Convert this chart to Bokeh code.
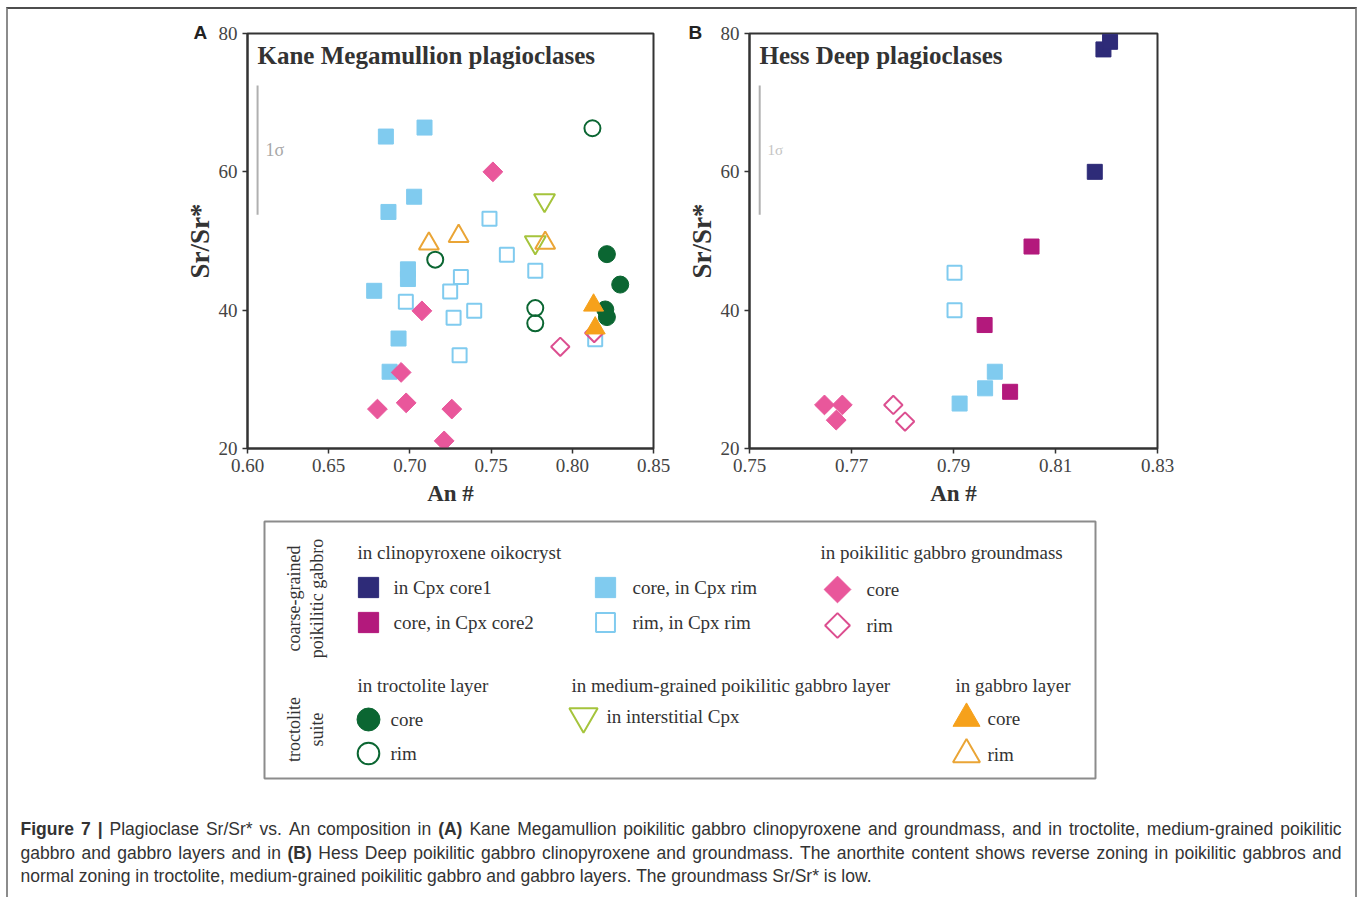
import numpy as np
from bokeh.plotting import figure
from bokeh.models import Range1d, FixedTicker, Label, Title, NumeralTickFormatter
from bokeh.layouts import row, column
from bokeh.embed import file_html
from bokeh.resources import INLINE
from bokeh.core.properties import value

# ---------------------------------------------------------------- data
Y_TICKS = [20, 40, 60, 80]
A_X_TICKS = [0.60, 0.65, 0.70, 0.75, 0.80, 0.85]
B_X_TICKS = [0.75, 0.77, 0.79, 0.81, 0.83]
SIGMA_SR = [53.8, 72.5]          # length of the 1-sigma bar (Sr/Sr*)

# Panel A - Kane Megamullion
A_cpx_rim_core_an = [0.6852, 0.7090, 0.7026, 0.6868, 0.6988, 0.6988, 0.6780, 0.6930, 0.6875]
A_cpx_rim_core_sr = [65.1, 66.4, 56.4, 54.2, 45.9, 44.5, 42.8, 35.9, 31.1]
A_cpx_rim_rim_an = [0.7490, 0.7597, 0.7314, 0.7772, 0.7248, 0.6975, 0.7396, 0.7269, 0.7306, 0.8141]
A_cpx_rim_rim_sr = [53.2, 48.0, 44.8, 45.7, 42.7, 41.2, 39.9, 38.9, 33.5, 35.8]
A_gm_core_an = [0.7511, 0.7074, 0.6946, 0.6800, 0.6977, 0.7258, 0.7211]
A_gm_core_sr = [60.0, 39.9, 31.0, 25.7, 26.6, 25.7, 21.1]
A_gm_rim_an = [0.7926, 0.8135]
A_gm_rim_sr = [34.7, 36.7]
A_troc_core_an = [0.8213, 0.8295, 0.8203, 0.8213]
A_troc_core_sr = [48.1, 43.7, 40.1, 39.0]
A_troc_rim_an = [0.8124, 0.7156, 0.7772, 0.7772]
A_troc_rim_sr = [66.3, 47.3, 40.3, 38.1]
A_interstitial_an = [0.7829, 0.7772]
A_interstitial_sr = [55.9, 49.8]
A_gab_core_an = [0.8131, 0.8141]
A_gab_core_sr = [40.7, 37.4]
A_gab_rim_an = [0.7117, 0.7300, 0.7833]
A_gab_rim_sr = [49.6, 50.7, 49.7]

# Panel B - Hess Deep
B_core1_an = [0.8194, 0.8207, 0.8177]
B_core1_sr = [77.7, 78.8, 60.0]
B_core2_an = [0.8053, 0.7961, 0.8011]
B_core2_sr = [49.2, 37.85, 28.2]
B_cpx_rim_core_an = [0.7981, 0.7962, 0.7912]
B_cpx_rim_core_sr = [31.1, 28.7, 26.5]
B_cpx_rim_rim_an = [0.7902, 0.7902]
B_cpx_rim_rim_sr = [45.4, 40.0]
B_gm_core_an = [0.7647, 0.7682, 0.7670]
B_gm_core_sr = [26.3, 26.3, 24.1]
B_gm_rim_an = [0.7782, 0.7805]
B_gm_rim_sr = [26.3, 23.9]

LEGEND_HEADERS = ["in clinopyroxene oikocryst", "in poikilitic gabbro groundmass",
                  "in troctolite layer", "in medium-grained poikilitic gabbro layer",
                  "in gabbro layer"]
LEGEND_KEYS = ["core1", "core2", "cpx_rim_core", "cpx_rim_rim", "gm_core", "gm_rim",
               "troc_core", "troc_rim", "interstitial", "gab_core", "gab_rim"]
LEGEND_LABELS = ["in Cpx core1", "core, in Cpx core2", "core, in Cpx rim", "rim, in Cpx rim",
                 "core", "rim", "core", "rim", "in interstitial Cpx", "core", "rim"]
GROUP_LABELS = [["coarse-grained", "poikilitic gabbro"], ["troctolite", "suite"]]

CAPTION = [
    [("Figure 7 |", "bold"), ("Plagioclase Sr/Sr* vs. An composition in", "normal"), ("(A)", "bold"),
     ("Kane Megamullion poikilitic gabbro clinopyroxene and groundmass, and in troctolite, medium-grained poikilitic", "normal")],
    [("gabbro and gabbro layers and in", "normal"), ("(B)", "bold"),
     ("Hess Deep poikilitic gabbro clinopyroxene and groundmass. The anorthite content shows reverse zoning in poikilitic gabbros and", "normal")],
    [("normal zoning in troctolite, medium-grained poikilitic gabbro and gabbro layers. The groundmass Sr/Sr* is low.", "normal")],
]
CAPTION_JUSTIFIED = [True, True, False]

# ---------------------------------------------------------------- styles
SERIF = "Liberation Serif"
SANS = "Liberation Sans"
NAVY = "#2e2b78"
MAGENTA = "#b3197c"
LBLUE = "#80cbef"
PINK = "#e9579b"
PINK_RIM = "#dc4f90"
DGREEN = "#0b6632"
YGREEN = "#a5c43c"
ORANGE = "#f6a11b"
ORANGE_RIM = "#eaa536"
INK = "#333333"

STY = {
    "core1": dict(marker="square", size=15, fill_color=NAVY, line_color=NAVY, line_width=1, angle=0.0),
    "core2": dict(marker="square", size=15, fill_color=MAGENTA, line_color=MAGENTA, line_width=1, angle=0.0),
    "cpx_rim_core": dict(marker="square", size=15, fill_color=LBLUE, line_color=LBLUE, line_width=1, angle=0.0),
    "cpx_rim_rim": dict(marker="square", size=14, fill_color=None, line_color=LBLUE, line_width=2, angle=0.0),
    "gm_core": dict(marker="square", size=14, fill_color=PINK, line_color=PINK, line_width=1, angle=np.pi / 4),
    "gm_rim": dict(marker="square", size=13, fill_color=None, line_color=PINK_RIM, line_width=2, angle=np.pi / 4),
    "troc_core": dict(marker="circle", size=17, fill_color=DGREEN, line_color=DGREEN, line_width=1, angle=0.0),
    "troc_rim": dict(marker="circle", size=16, fill_color=None, line_color=DGREEN, line_width=2, angle=0.0),
    "interstitial": dict(marker="inverted_triangle", size=21, fill_color=None, line_color=YGREEN, line_width=2, angle=0.0),
    "gab_core": dict(marker="triangle", size=20, fill_color=ORANGE, line_color=ORANGE, line_width=1, angle=0.0),
    "gab_rim": dict(marker="triangle", size=20, fill_color=None, line_color=ORANGE_RIM, line_width=2, angle=0.0),
}

# Arial / Liberation Sans advance widths (per 1000 em) for caption justification
_REG = dict(zip("abcdefghijklmnopqrstuvwxyz",
                [556, 556, 500, 556, 556, 278, 556, 556, 222, 222, 500, 222, 833,
                 556, 556, 556, 556, 333, 500, 278, 556, 500, 722, 500, 500, 500]))
_REG.update({"A": 667, "B": 667, "D": 722, "F": 611, "H": 722, "K": 667, "M": 833,
             "P": 667, "S": 667, "T": 611, " ": 278, ".": 278, ",": 278, "-": 333,
             "/": 278, "*": 389, "(": 333, ")": 333, "|": 260, "7": 556})
_BOLD = dict(_REG)
_BOLD.update({"g": 611, "u": 611, "r": 389, "A": 722, "B": 722, "i": 278, "|": 280})


def text_width(s, bold, size):
    tbl = _BOLD if bold else _REG
    return sum(tbl.get(c, 556) for c in s) * size / 1000.0


# ---------------------------------------------------------------- layout (page px)
OX, OY = 8, 9            # content origin (after page frame)
SPLIT_X = 680            # boundary between the two panel figures
RIGHT_X = 1355
ROW_BOTTOM = 515
PAGE_H = 897
FRAME_TOP = 33
FRAME_H = 415


def panel(xr, xticks, frame_left, frame_w, fig_left, fig_right, title, letter,
          sigma_x, series, sig_font, sig_color):
    fig_w = fig_right - fig_left
    fig_h = ROW_BOTTOM - OY
    mbl = frame_left - fig_left
    mbt = FRAME_TOP - OY
    p = figure(width=fig_w, height=fig_h, frame_width=frame_w, frame_height=FRAME_H,
               x_range=Range1d(*xr), y_range=Range1d(20, 80),
               output_backend="svg", toolbar_location=None,
               min_border_left=mbl, min_border_right=fig_w - mbl - frame_w,
               min_border_top=mbt, min_border_bottom=fig_h - mbt - FRAME_H,
               background_fill_color="white", border_fill_color="white")
    p.xgrid.visible = False
    p.ygrid.visible = False
    p.outline_line_color = INK
    p.outline_line_width = 2
    p.xaxis.ticker = FixedTicker(ticks=xticks)
    p.yaxis.ticker = FixedTicker(ticks=Y_TICKS)
    p.xaxis.formatter = NumeralTickFormatter(format="0.00")
    for ax in (p.xaxis[0], p.yaxis[0]):
        ax.axis_line_color = INK
        ax.axis_line_width = 2
        ax.major_tick_line_color = INK
        ax.major_tick_line_width = 1.5
        ax.major_tick_out = 5
        ax.major_tick_in = 0
        ax.minor_tick_out = 0
        ax.minor_tick_in = 0
        ax.major_label_text_font = SERIF
        ax.major_label_text_font_size = "19px"
        ax.major_label_text_color = "#444444"
        ax.major_label_standoff = 5
    p.xaxis.axis_label = "An #"
    p.xaxis.axis_label_text_font = SERIF
    p.xaxis.axis_label_text_font_size = "23px"
    p.xaxis.axis_label_text_font_style = "bold"
    p.xaxis.axis_label_text_color = INK
    p.xaxis.axis_label_standoff = 6
    p.add_layout(Title(text="Sr/Sr*", align="center", offset=25, text_font=SERIF,
                       text_font_size="27px", text_font_style="bold",
                       text_color=INK, standoff=2), "left")
    # panel letter (above the frame, pushed down beside the "80" tick)
    p.add_layout(Title(text=letter[0], align="left", offset=letter[1] - frame_left,
                       vertical_align="bottom", standoff=-19, text_font=SANS,
                       text_font_size="19px", text_font_style="bold",
                       text_color="#222222"), "above")

    # 1-sigma bar
    p.segment(x0=[sigma_x], y0=[SIGMA_SR[0]], x1=[sigma_x], y1=[SIGMA_SR[1]],
              line_color="#b0b0b0", line_width=2)
    p.add_layout(Label(x=18, y=FRAME_H - 116, x_units="screen", y_units="screen",
                       text="1σ", text_font=SERIF, text_font_size=sig_font,
                       text_color=sig_color, text_baseline="middle"))
    # title inside the frame
    p.add_layout(Label(x=10, y=FRAME_H - 22, x_units="screen", y_units="screen",
                       text=title, text_font=SERIF, text_font_size="25px",
                       text_font_style="bold", text_color=INK, text_baseline="middle"))

    for key, xs, ys in series:
        s = STY[key]
        p.scatter(x=xs, y=ys, marker=s["marker"], size=s["size"], angle=s["angle"],
                  fill_color=s["fill_color"], line_color=s["line_color"],
                  line_width=s["line_width"])
    return p


pA = panel((0.60, 0.85), A_X_TICKS, 247, 406, OX, SPLIT_X,
           "Kane Megamullion plagioclases", ("A", 193), 0.6062,
           [("cpx_rim_rim", A_cpx_rim_rim_an, A_cpx_rim_rim_sr),
            ("cpx_rim_core", A_cpx_rim_core_an, A_cpx_rim_core_sr),
            ("gm_core", A_gm_core_an, A_gm_core_sr),
            ("gm_rim", A_gm_rim_an, A_gm_rim_sr),
            ("troc_rim", A_troc_rim_an, A_troc_rim_sr),
            ("troc_core", A_troc_core_an, A_troc_core_sr),
            ("interstitial", A_interstitial_an, A_interstitial_sr),
            ("gab_rim", A_gab_rim_an, A_gab_rim_sr),
            ("gab_core", A_gab_core_an, A_gab_core_sr)],
           "18px", "#a8a8a8")

pB = panel((0.75, 0.83), B_X_TICKS, 749, 408, SPLIT_X, RIGHT_X,
           "Hess Deep plagioclases", ("B", 688), 0.752,
           [("cpx_rim_rim", B_cpx_rim_rim_an, B_cpx_rim_rim_sr),
            ("cpx_rim_core", B_cpx_rim_core_an, B_cpx_rim_core_sr),
            ("core2", B_core2_an, B_core2_sr),
            ("core1", B_core1_an, B_core1_sr),
            ("gm_core", B_gm_core_an, B_gm_core_sr),
            ("gm_rim", B_gm_rim_an, B_gm_rim_sr)],
           "15px", "#c4c4c4")

# ---------------------------------------------------------------- legend + caption canvas
cw = RIGHT_X - OX
ch = PAGE_H - ROW_BOTTOM
canv = figure(width=cw, height=ch, x_range=Range1d(OX, RIGHT_X), y_range=Range1d(PAGE_H, ROW_BOTTOM),
              output_backend="svg", toolbar_location=None, x_axis_type=None, y_axis_type=None,
              min_border=0, min_border_left=0, min_border_right=0, min_border_top=0,
              min_border_bottom=0, outline_line_color=None,
              background_fill_color="white", border_fill_color="white")
canv.xgrid.visible = False
canv.ygrid.visible = False

# legend box
canv.quad(left=[264], right=[1095], top=[521], bottom=[778], fill_color=None,
          line_color="#8c8c8c", line_width=2)

HEADER_POS = [(357, 552), (820, 552), (357, 685), (571, 685), (955, 685)]
canv.text(x=[p_[0] for p_ in HEADER_POS], y=[p_[1] for p_ in HEADER_POS], text=LEGEND_HEADERS,
          text_font=value(SERIF), text_font_size="19px", text_color=INK,
          text_baseline="middle", text_align="left")

SWATCH_POS = [(368, 587), (368, 622), (605, 587), (605, 622), (837, 589), (837, 625),
              (368, 719), (368, 753), (583, 716), (966, 718), (966, 754)]
LABEL_X = [393, 393, 632, 632, 866, 866, 390, 390, 606, 987, 987]
for (sx, sy), key in zip(SWATCH_POS, LEGEND_KEYS):
    s = STY[key]
    canv.scatter(x=[sx], y=[sy], marker=s["marker"], size=s["size"] * 1.35, angle=s["angle"],
                 fill_color=s["fill_color"], line_color=s["line_color"], line_width=s["line_width"])
canv.text(x=LABEL_X, y=[p_[1] for p_ in SWATCH_POS], text=LEGEND_LABELS,
          text_font=value(SERIF), text_font_size="19px", text_color=INK,
          text_baseline="middle", text_align="left")

GROUP_POS = [((293, 598), (316, 598)), ((293, 729), (316, 729))]
for labels, poss in zip(GROUP_LABELS, GROUP_POS):
    for lab, (gx, gy) in zip(labels, poss):
        canv.text(x=[gx], y=[gy], text=[lab], angle=np.pi / 2, text_font=value(SERIF),
                  text_font_size="18px", text_color=INK, text_baseline="middle",
                  text_align="center")

# caption (lines 1-2 justified between CAP_LEFT and CAP_RIGHT)
CAP_Y = [828, 852, 875]
CAP_LEFT, CAP_RIGHT = 20, 1341
CAP_SIZE = 17.5
for line, ly, just in zip(CAPTION, CAP_Y, CAPTION_JUSTIFIED):
    words = []
    for txt, style in line:
        for w in txt.split(" "):
            words.append((w, style))
    widths = [text_width(w, st == "bold", CAP_SIZE) for w, st in words]
    if just and len(words) > 1:
        gap = (CAP_RIGHT - CAP_LEFT - sum(widths)) / (len(words) - 1)
    else:
        gap = text_width(" ", False, CAP_SIZE)
    xs, cur = [], CAP_LEFT
    for wd in widths:
        xs.append(cur)
        cur += wd + gap
    for style in ("normal", "bold"):
        sel = [i for i, (w, st) in enumerate(words) if st == style]
        if not sel:
            continue
        canv.text(x=[xs[i] for i in sel], y=[ly] * len(sel), text=[words[i][0] for i in sel],
                  text_font=value(SANS), text_font_size=f"{CAP_SIZE}px",
                  text_font_style=style, text_color=INK, text_baseline="middle",
                  text_align="left")

root = column(row(pA, pB), canv,
              styles={"margin-left": "6px", "margin-top": "7px",
                      "border-left": "2px solid #8c8c8c", "border-top": "2px solid #4d4d4d",
                      "border-right": "2px solid #8c8c8c"})

open("out.html", "w").write(file_html(root, INLINE))
